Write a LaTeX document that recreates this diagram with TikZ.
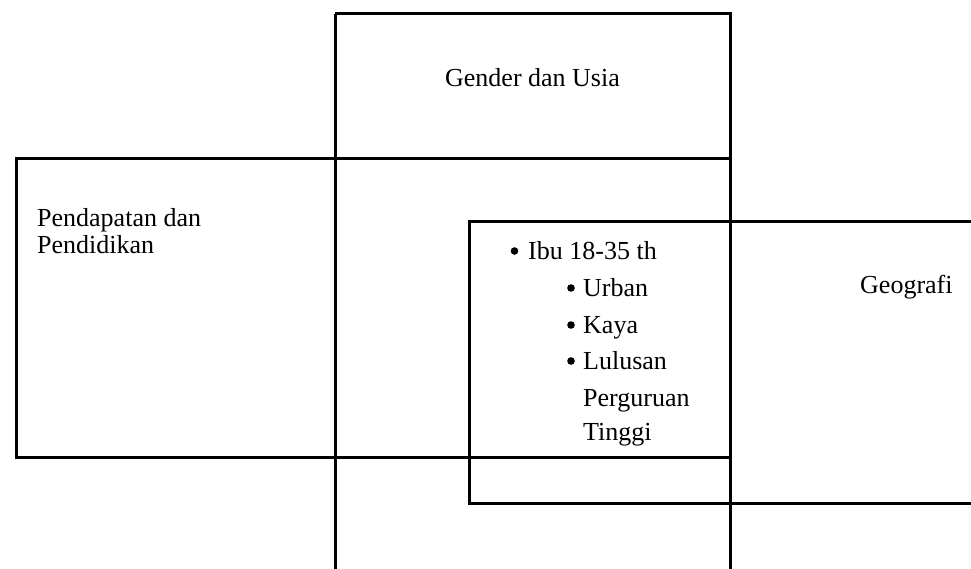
\documentclass[tikz,border=0pt]{standalone}
\usepackage{fontspec}
\setmainfont{Liberation Serif}
\begin{document}
\begin{tikzpicture}[x=1pt,y=-1pt,
  box/.style={draw=black,line width=3pt},
  lbl/.style={inner sep=0pt,font=\fontsize{26}{31}\selectfont,anchor=base west},
  dot/.style={circle,fill=black,inner sep=0pt,minimum size=7.6pt}]
\useasboundingbox (0,0) rectangle (971,568);
\begin{scope}
\clip (0,0) rectangle (971,568);
\draw[box] (335,13.5) -- (730,13.5) -- (730,580) (335,580) -- (335,13.5);
\draw[box] (16,158.5) rectangle (730,457);
\draw[box] (990,221.5) -- (469,221.5) -- (469,503) -- (990,503);
\end{scope}
\node[lbl,anchor=base] (gender) at (532.5,86) {Gender dan Usia};
\node[lbl] (pend1) at (37,226) {Pendapatan dan};
\node[lbl] (pend2) at (37,253) {Pendidikan};
\node[lbl] (geo) at (860,293) {Geografi};
\node[dot] (d1) at (514.5,251) {};
\node[lbl] (b1) at (528,259) {Ibu 18-35 th};
\node[dot] (d2) at (571,288) {};
\node[lbl] (b2) at (583,296) {Urban};
\node[dot] (d3) at (571,325) {};
\node[lbl] (b3) at (583,333) {Kaya};
\node[dot] (d4) at (571,361) {};
\node[lbl] (b4) at (583,369) {Lulusan};
\node[lbl] (b5) at (583,406) {Perguruan};
\node[lbl] (b6) at (583,440) {Tinggi};
\end{tikzpicture}
\end{document}
